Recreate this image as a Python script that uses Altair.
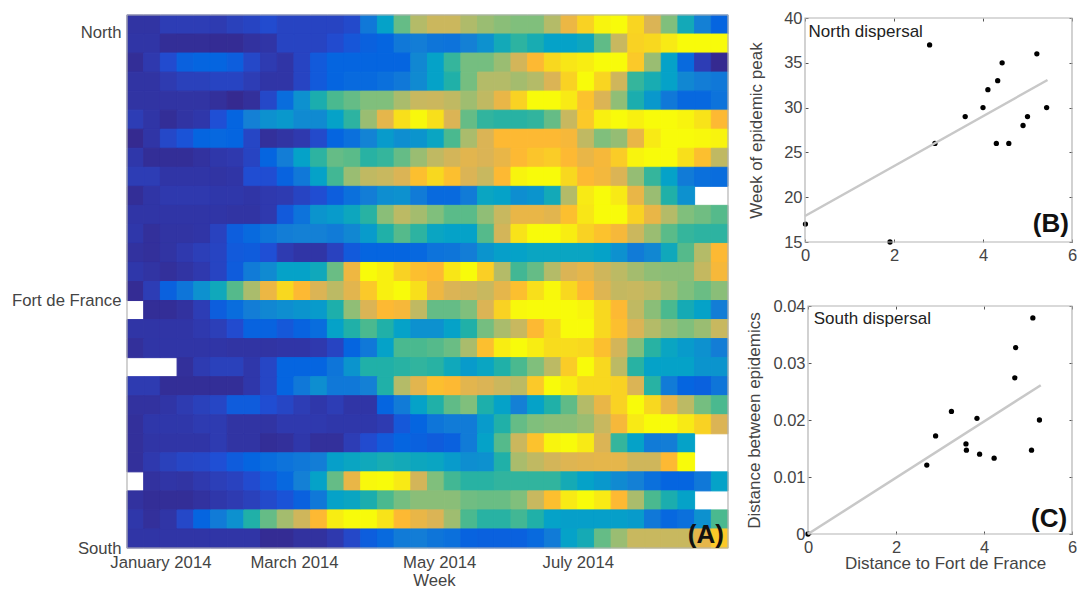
import altair as alt
import pandas as pd

N = None
r00 = [.5,.5,1,1,1,.9,1.2,1.4,1.8,1.4,1.4,1.4,1.4,1.7,3.7,5,7.5,9, 9.6,9.6,8.9,8.5,8.2,8,8,9,10.5,11.8,12.8,13,11.9,10,8,5.5,4,3]
r01 = [.6,.6,.2,.2,.2,.1,.1,.4,.6,1.4,1.4,1.4,1.8,2.3,2.8,3,3.7,3.9, 3.6,3.5,4,4.5,5.5,6.3,5.7,5,5,5.3,7.4,9.5,11.8,12,12.5,13,13,13]
r02 = [.2,.8,1.8,2.8,3,3,2.7,1.6,.9,.6,1.4,2.5,3,3,3,3,3,4.2, 5,6.5,7.8,7.8,8.5,9.8,11,12,12.4,12.6,13,13,11.5,8.5,5,3.2,1,0]
r03 = [.5,.5,.9,1.2,1.2,1.4,1.4,1,.6,.6,1.4,2.5,3,3.2,3.2,3.4,3.7,4.3, 5,6,7.8,9,9,8.7,9,10,11.8,13,11.9,9.7,6.5,5.7,5,4.2,3.9,3.7]
r04 = [.5,.5,.5,.5,.5,.3,0,.3,1.6,3.3,4.5,5.8,7,7.5,8,8,8.8,9.5, 9.6,9.3,8.6,9.3,10.4,11.8,13,13,12.5,11.3,10,8.3,5.8,4.7,3.7,3.1,3.1,3.5]
r05 = [1,.6,.2,.5,.7,2,3,4,4.5,4.7,4.3,4.3,5,6.3,8.5,10.3,12.2,12.9, 12.2,10,7.5,6.4,6.2,6.2,6.4,7.5,9.5,11.5,12.7,13,12.7,13,13,12.8,12.3,11]
r06 = [0,.6,1.6,2.2,3,3.1,3,1.5,.3,.5,.8,1.7,3,3.4,4.1,4.8,4.4,4.6, 5.2,7,8.8,10,11,11,11,11,10.8,9.3,8,8.4,10.4,12.5,13,13,12.9,12.8]
r07 = [.7,.2,.2,.2,.4,.7,.8,1.4,3,3.9,5,6.3,7.5,7.3,6.2,6.5,7.5,8.5, 9.3,9.8,10.2,10,10.4,11,11.4,11.6,11,10.4,10.8,11.6,12.8,13,13,12.2,11.2,9.3]
r08 = [1,1,.6,.6,.6,.5,.6,1.9,1.9,2.9,3.7,5,6.8,8.5,9.3,9.5,10,11.2, 12,11.2,10,9.5,11,12.8,13,13,12,11,10.7,10,8.4,6.5,5,3.8,3.4,3.3]
r09 = [.2,.6,.8,.8,.8,.7,.7,.6,.8,.9,1.4,1.9,2.7,3.4,3.9,4.4,4.5,3.8, 3.2,3.2,3.8,5.2,5,4.4,4.6,5.5,9,12.5,13,12.5,10.4,8.5,6,4.5,N,N]
r10 = [.6,.6,.6,.6,.6,.6,.5,.5,.8,2.5,3.5,4.6,4.8,5.3,6.2,8.2,9.2,8.7, 8,7.3,7.3,8.3,9.5,10.4,10.4,10.2,11.2,12.4,13,13,11.8,10.4,9,8,7.7,7.2]
r11 = [.7,.3,.5,.5,.6,1.3,2.7,3.2,3.6,3.9,4,4,3.8,4.2,4.8,6,7.2,6.3, 5.2,5,5,7.2,9.8,12.3,13,13,12.6,11.8,11.3,10.8,9.6,8.5,7.3,6.5,6.3,6.3]
r12 = [.4,.3,.5,.8,1.1,1.4,2.5,2.6,2,.9,.6,.6,1.3,2.5,3,3,3,3.1, 3.5,3.6,3.9,4.6,4.9,5,5.2,5.2,5.2,5.2,5,4.5,3.8,4.2,5.4,7.2,9,11]
r13 = [.7,.5,.3,.5,.8,1.4,2.6,3.8,4.3,5,5,5.4,7.6,10.6,13,12.7,11.8,11.2, 11,12.4,13,11.7,9,6.8,7.5,9,10,10.3,9.7,9.2,8.7,8.3,8.2,8.2,9.4,10.8]
r14 = [.1,1,2.8,3.6,4.5,5.4,7.2,8.8,10.5,12,11,10,9.2,10.2,11.5,12.7,13,12.2, 10.6,10,9.8,9.5,10.3,11.2,12.2,12.9,12,11,10.1,9.4,9.5,9.2,8.6,8,7.6,8.2]
r15 = [N,.2,.2,.4,1,2.7,3.3,3.9,4.2,4.4,4.6,4.8,5.9,8.3,10,11,10.8,9.3, 7.5,7.5,8,10,11.8,12.9,13,13,13,12.8,12,11,9.3,8.2,7,5.6,5,3.9]
r16 = [.6,.6,.6,.6,.8,1.1,1.8,2.9,2.9,2.4,2.9,3.3,5,6,7,6,5,4.5, 4.5,5,6,7.8,8.8,9.5,11,12,13,13,12,11.2,10,9,8.4,8,8.5,9.5]
r17 = [.3,.6,.6,.6,.6,.6,.5,.5,.5,.6,.6,.8,1.4,3,3.7,5,7,7, 7.2,7.6,8.8,11.2,12.6,13,12.6,12.1,12.1,12,11.2,9.8,8,6.2,5.2,4.8,4.5,3.9]
r18 = [N,N,N,.3,.9,1.2,1.2,.7,1.5,3,3,3,3.6,4.6,6,6,6.2,6.4, 6.2,5.4,4.8,5.2,6,7,8,9.2,11.6,13,12,9.2,6.2,5,5,5,4.6,4.6]
r19 = [.9,.9,.2,.2,.2,.2,.2,.7,1.5,3,3.7,4.4,3.7,3.7,4,6,9,10.2, 11.2,11,10.2,10,9.6,9.2,11.5,13,12.6,12,12,11.8,10,6.2,3.8,3,2.8,3.6]
r20 = [.4,.4,.6,.9,1.2,1.5,2.6,2.6,1.9,1.5,1,.7,1,.6,.6,3,3.8,5, 6,7.4,8,5.9,5,4,5,6,7.4,9,10.4,11.8,13,12,10.4,9.2,7.8,7]
r21 = [.3,.7,.7,.7,.9,.9,.5,.5,.5,.8,.8,.8,.7,.7,.7,.9,2.4,3, 3.6,3.8,3.8,4.8,6,7.5,8,8.2,8.2,8.5,9.5,10.8,12.5,13,13,12.5,11.8,10]
r22 = [.3,.6,.6,.6,.6,.9,.5,.5,.2,.3,.7,.3,.3,1,1.8,2.5,3,2.8, 2.6,2.8,3.8,5,7.2,9.6,11.3,12.8,13,12.5,10,6.5,5,3.8,3.9,5,N,N]
r23 = [.3,.8,1.2,1.5,1.6,2,2.6,3,3.3,3.5,3.7,3.9,4.9,5.2,5.4,5.7,5.5,5.3, 5.2,4.8,4.4,4.5,6,8.8,9.3,9.8,10.1,10.2,10.3,10.3,9.7,9.7,11,13,N,N]
r24 = [N,.4,.6,.5,.8,1.1,1.3,1.8,2.5,3.1,4,5,7.5,10.4,12.9,13,12.5,9.8, 8,6.8,6.2,6.2,6.4,6.4,6.4,6.4,5.6,5,4.7,4.3,4,3.4,3,3,3.7,5]
r25 = [.4,.2,.2,.2,.4,.7,.9,1.2,1.7,2.2,2.8,3.7,5,5.2,5.8,7,7.8,8.2, 8.2,8.2,7.7,7.6,7.6,8,9.5,11.2,12.5,13,12.5,11,8.8,7,5.8,5,N,N]
r26 = [.7,.3,.6,1.6,3,3.8,4.5,6,7.5,8.7,9.7,11,12.6,13,13,12.3,11,10.4, 10,8.6,7,6.2,6.2,6.8,6,5,4.9,4.9,4.9,4.9,4.8,3.7,3.1,3.4,4.5,7]
r27 = [.6,.6,.6,.6,.6,.6,.6,.6,.1,.1,.4,.4,.8,1.6,2.7,3.2,3.8,3.9, 3.6,3.4,2.9,2.8,2.8,2.8,3.2,3.8,5,5.6,7.5,8.5,9.5,9.5,9.5,9.5,10.3,11.5]
rows = [r00,r01,r02,r03,r04,r05,r06,r07,r08,r09,r10,r11,r12,r13,r14,r15,r16,r17,r18,r19,r20,r21,r22,r23,r24,r25,r26,r27]

month_ticks = [2, 10, 18.7, 27]
month_names = ["January 2014", "March 2014", "May 2014", "July 2014"]
place_ticks = [0.9, 15, 28]
place_names = ["North", "Fort de France", "South"]

levels = list(range(14))
palette = ["#352a90","#2d3db5","#1f4fd5","#0565e0","#1480d5","#05a2c8","#20b0a8",
           "#4ab98f","#80bf7c","#b4bb68","#dbb455","#fdb933","#f8d81f","#f8fb0a"]

b_x = [0.01,1.91,2.8,2.92,3.6,4,4.11,4.33,4.43,4.3,4.58,4.9,5,5.21,5.43]
b_y = [17,15,37,26,29,30,32,33,35,26,26,28,29,36,30]
b_line_x = [0,5.45]
b_line_y = [17.9,33.08]
c_x = [5.11,4.72,4.70,3.26,3.84,5.26,2.9,3.59,3.6,3.9,4.23,5.08,2.7,0]
c_y = [.0379,.0327,.0274,.0215,.0203,.02,.0172,.0158,.0147,.014,.0133,.0147,.0121,0]
c_line_x = [0,5.29]
c_line_y = [0,.0261]

FONT = "Liberation Sans"
TXT = "#444444"
FRAME = "#b4b4b4"
FS = 17

cells = pd.DataFrame([
    dict(x=c, x2=c+1, y=r, y2=r+1, v=v)
    for r, row in enumerate(rows) for c, v in enumerate(row) if v is not None
])

def labexpr(ticks, names):
    parts = "".join(f"datum.value=={t}?'{n}':" for t, n in zip(ticks, names))
    return parts + "''"

color_scale = alt.Scale(domain=levels, range=palette, interpolate="rgb")
hx = alt.X("x:Q", scale=alt.Scale(domain=[0,36], nice=False, zero=False),
           axis=alt.Axis(values=month_ticks, labelExpr=labexpr(month_ticks, month_names), ticks=False,
                         domain=False, grid=False, title="Week", labelFontSize=16.7, titleFontSize=16.7,
                         labelFont=FONT, titleFont=FONT, labelColor=TXT, titleColor=TXT,
                         titleFontWeight="normal", labelPadding=6, titlePadding=2, titleX=307, labelFlush=False))
hy = alt.Y("y:Q", scale=alt.Scale(domain=[28,0], nice=False, zero=False),
           axis=alt.Axis(values=place_ticks, labelExpr=labexpr(place_ticks, place_names), ticks=False,
                         domain=False, grid=False, title=None, labelFontSize=16.7, labelFont=FONT,
                         labelColor=TXT, labelPadding=6, labelFlush=False))
heat_rect = alt.Chart(cells).mark_rect(strokeWidth=1).encode(
    x=hx, x2="x2:Q", y=hy, y2="y2:Q",
    color=alt.Color("v:Q", scale=color_scale, legend=None),
    stroke=alt.Stroke("v:Q", scale=color_scale, legend=None),
)
heat_frame = alt.Chart(pd.DataFrame(dict(x=[0], x2=[36], y=[0], y2=[28]))).mark_rect(
    fillOpacity=0, stroke=FRAME, strokeWidth=1.2).encode(x=hx, x2="x2:Q", y=hy, y2="y2:Q")
heat_tag = alt.Chart(pd.DataFrame(dict(x=[35.75], y=[27.73], t=["(A)"]))).mark_text(
    align="right", baseline="alphabetic", font=FONT, fontSize=26, fontWeight="bold", color="#111111"
).encode(x=hx, y=hy, text="t:N")
heat = alt.layer(heat_rect, heat_frame, heat_tag).properties(width=601, height=533)

def panel(px, py, lx, ly, xdom, ydom, yticks, yfmt, xtitle, ytitle, name, tx, ty, tag, tagx, tagy,
          ytp, w, h, left, top, xtx):
    pts = pd.DataFrame(dict(x=px, y=py))
    line = pd.DataFrame(dict(x=lx, y=ly))
    frame = pd.DataFrame(dict(x=[xdom[0]], x2=[xdom[1]], y=[ydom[0]], y2=[ydom[1]]))
    xs = alt.Scale(domain=xdom, nice=False, zero=False, range=[left, w])
    ys = alt.Scale(domain=ydom, nice=False, zero=False, range=[h, top])
    common = dict(grid=False, domain=False, tickSize=3, tickColor="#555555", labelFontSize=FS-.5, labelFont=FONT,
                  labelColor=TXT, titleFontSize=FS, titleFont=FONT, titleColor=TXT, titleFontWeight="normal",
                  labelFlush=False)
    xa = alt.Axis(values=[0,2,4,6], format="d", offset=-3, labelPadding=5, title=xtitle, titlePadding=0,
                  titleX=xtx, **common)
    ya = alt.Axis(values=yticks, labelExpr=yfmt, offset=-3-left, labelPadding=3, title=ytitle, titlePadding=ytp, **common)
    xb = alt.Axis(values=[0,2,4,6], offset=-3-top, labels=False, title=None, orient="top", **common)
    yb = alt.Axis(values=yticks, offset=-3, labels=False, title=None, orient="right", **common)
    dots = alt.Chart(pts).mark_circle(size=28, color="#000000", opacity=1, clip=False).encode(
        x=alt.X("x:Q", scale=xs, axis=xa), y=alt.Y("y:Q", scale=ys, axis=ya))
    ghost = alt.Chart(pts).mark_circle(size=0, opacity=0).encode(
        x=alt.X("x:Q", scale=xs, axis=xb), y=alt.Y("y:Q", scale=ys, axis=yb))
    box = alt.Chart(frame).mark_rect(fillOpacity=0, stroke=FRAME, strokeWidth=1.2).encode(
        x=alt.X("x:Q", scale=xs, axis=None), x2="x2:Q", y=alt.Y("y:Q", scale=ys, axis=None), y2="y2:Q")
    fit = alt.Chart(line).mark_line(color="#c8c8c8", strokeWidth=2.5).encode(
        x=alt.X("x:Q", scale=xs, axis=None), y=alt.Y("y:Q", scale=ys, axis=None))
    lab = alt.Chart(pd.DataFrame(dict(x=[tx], y=[ty], t=[name]))).mark_text(
        align="left", baseline="middle", font=FONT, fontSize=FS, color="#222222").encode(
        x=alt.X("x:Q", scale=xs, axis=None), y=alt.Y("y:Q", scale=ys, axis=None), text="t:N")
    tg = alt.Chart(pd.DataFrame(dict(x=[tagx], y=[tagy], t=[tag]))).mark_text(
        align="right", baseline="alphabetic", font=FONT, fontSize=26, fontWeight="bold", color="#111111").encode(
        x=alt.X("x:Q", scale=xs, axis=None), y=alt.Y("y:Q", scale=ys, axis=None), text="t:N")
    return alt.layer(dots, ghost, box, fit, lab, tg).resolve_scale(
        x="independent", y="independent").properties(width=w, height=h)

B = panel(b_x, b_y, b_line_x, b_line_y, [0,6], [15,40], [15,20,25,30,35,40],
          "format(datum.value,'d')", None, "Week of epidemic peak", "North dispersal", 0.08, 38.44,
          "(B)", 5.93, 16.1, 18, 267, 227, 0, 3, 134)
C = panel(c_x, c_y, c_line_x, c_line_y, [0,6], [0,.04], [0,.01,.02,.03,.04],
          "datum.value==0?'0':format(datum.value,'.2f')", "Distance to Fort de France", "Distance between epidemics",
          "South dispersal", 0.13, .0377, "(C)", 5.89, .0012, 9, 267, 228, 3, 0, 140)

chart = alt.hconcat(heat, alt.vconcat(B, C, spacing=64, bounds="flush"), spacing=77, bounds="flush").resolve_scale(
    color="independent").properties(
    padding=dict(left=3, top=2, right=0, bottom=0)
).configure_view(stroke=None)

chart.save("out.html", embed_options={"renderer": "svg", "actions": False})
